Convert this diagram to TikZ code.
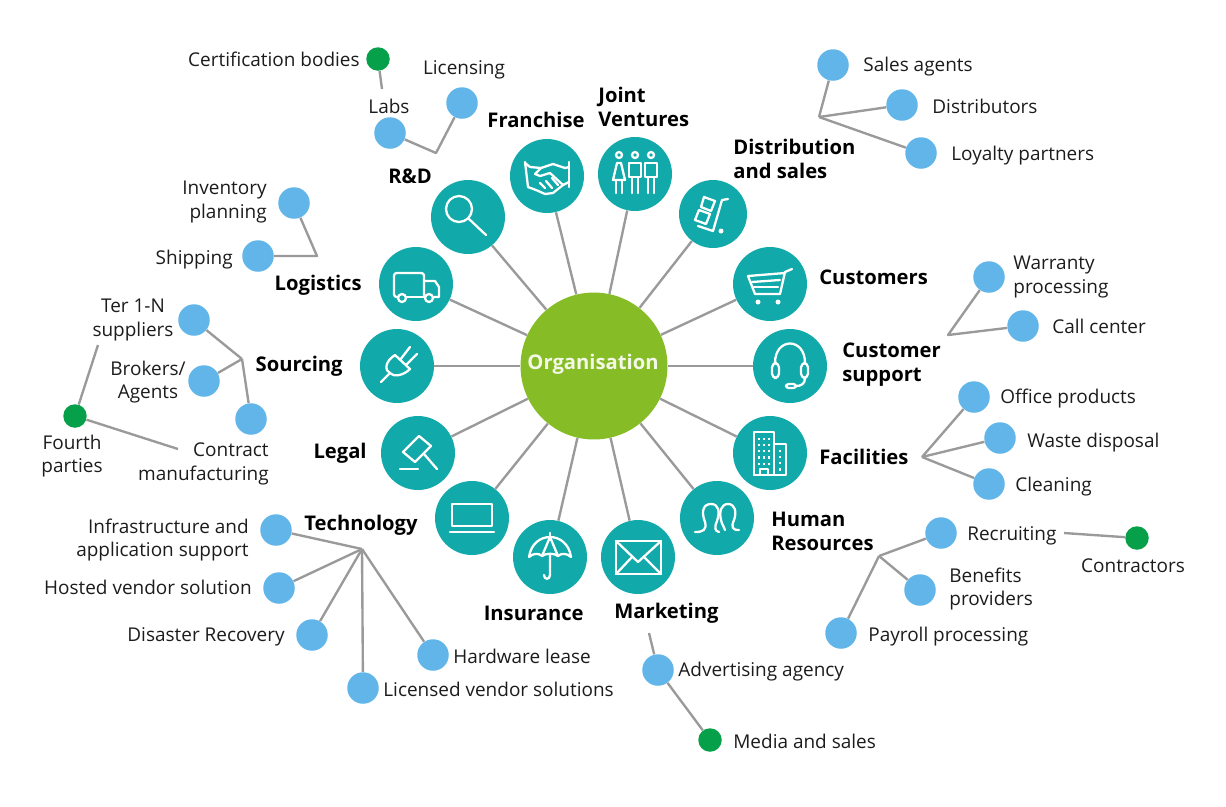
\documentclass[tikz,border=0pt]{standalone}
\usepackage{fontspec}
\setmainfont{Open Sans}
\usepackage{tikz}
\definecolor{orggreen}{HTML}{86BC25}
\definecolor{areateal}{HTML}{11A9A9}
\definecolor{leafblue}{HTML}{62B5E8}
\definecolor{fourthgreen}{HTML}{07A04A}
\definecolor{linegray}{HTML}{9A9A9A}
\definecolor{inktext}{HTML}{1C1C1C}
\begin{document}
\begin{tikzpicture}[
    x=0.02cm, y=-0.02cm,
    orgnode/.style={circle, fill=orggreen, inner sep=0pt, minimum size=2.94cm},
    orgtext/.style={text=white!90!orggreen, font=\fontsize{11.5}{13.6}\selectfont\bfseries, inner sep=0pt},
    areanode/.style={circle, fill=areateal, inner sep=0pt, minimum size=1.48cm},
    smallarea/.style={areanode, minimum size=1.36cm},
    leafnode/.style={circle, fill=leafblue, inner sep=0pt, minimum size=0.63cm},
    fourthnode/.style={circle, fill=fourthgreen, inner sep=0pt, minimum size=0.47cm},
    areatext/.style={text=black, font=\fontsize{11.5}{13.6}\selectfont\bfseries, inner sep=0pt},
    leaftext/.style={text=inktext, font=\fontsize{10.8}{13.3}\selectfont, inner sep=0pt},
    link/.style={draw=linegray, line width=1.35pt, line join=round},
    icon/.style={draw=white, line width=1.3pt, line join=round, line cap=round},
    icondots/.style={draw=white, line width=1.3pt, dash pattern=on 1.2pt off 2.3pt}
]
\useasboundingbox (0,0) rectangle (1226,806);
% centre and the ring of areas
\node[orgnode](org) at (594,366){};
\node[orgtext](orgtext) at (593,364){Organisation};
\node[areanode](franchise) at (547,176){};
\node[areanode](joint) at (635,174){};
\node[smallarea](distribution) at (713,214){};
\node[areanode](customers) at (770,284){};
\node[areanode](support) at (790,366){};
\node[areanode](facilities) at (770,453){};
\node[areanode](hr) at (717,518){};
\node[areanode](marketing) at (638,557){};
\node[areanode](insurance) at (550,557){};
\node[areanode](technology) at (472,518){};
\node[areanode](legal) at (418,453){};
\node[areanode](sourcing) at (397,366){};
\node[areanode](logistics) at (416,284){};
\node[areanode](rd) at (468,217){};
\draw[link] (org) -- (franchise);
\draw[link] (org) -- (joint);
\draw[link] (org) -- (distribution);
\draw[link] (org) -- (customers);
\draw[link] (org) -- (support);
\draw[link] (org) -- (facilities);
\draw[link] (org) -- (hr);
\draw[link] (org) -- (marketing);
\draw[link] (org) -- (insurance);
\draw[link] (org) -- (technology);
\draw[link] (org) -- (legal);
\draw[link] (org) -- (sourcing);
\draw[link] (org) -- (logistics);
\draw[link] (org) -- (rd);
% area names
\node[areatext, anchor=center](franchisetext) at (536,120){Franchise};
\node[areatext, anchor=west, align=left](jointtext) at (598,107){Joint\\Ventures};
\node[areatext, anchor=west, align=left](distributiontext) at (733,159){Distribution\\and sales};
\node[areatext, anchor=west](customerstext) at (819,277){Customers};
\node[areatext, anchor=west, align=left](supporttext) at (842,365){Customer\\support};
\node[areatext, anchor=west](facilitiestext) at (819,457){Facilities};
\node[areatext, anchor=west, align=left](hrtext) at (771,531){Human\\Resources};
\node[areatext, anchor=west](marketingtext) at (614,613){Marketing};
\node[areatext, anchor=east](insurancetext) at (584,613){Insurance};
\node[areatext, anchor=east](technologytext) at (418,525){Technology};
\node[areatext, anchor=east](legaltext) at (367,453){Legal};
\node[areatext, anchor=east](sourcingtext) at (343,366){Sourcing};
\node[areatext, anchor=east](logisticstext) at (362,285){Logistics};
\node[areatext](rdtext) at (410,176){R\&D};
% R&D
\node[fourthnode](certification) at (378,59){};
\node[leaftext, anchor=east](certificationtext) at (360,59){Certification bodies};
\node[leaftext](labstext) at (389,106){Labs};
\coordinate (labsend) at (382,89);
\node[leafnode](labs) at (390,133){};
\node[leafnode](licensing) at (462,103){};
\node[leaftext](licensingtext) at (464,70){Licensing};
\coordinate (rdjoin) at (436,153);
\draw[link] (certification) -- (labsend);
\draw[link] (labs) -- (rdjoin) -- (licensing);
% Logistics
\node[leafnode](inventory) at (294,203){};
\node[leaftext, anchor=east, align=right](inventorytext) at (267,202){Inventory\\planning};
\node[leafnode](shipping) at (258,256){};
\node[leaftext, anchor=east](shippingtext) at (233,260){Shipping};
\coordinate (logisticsjoin) at (317,256);
\draw[link] (inventory) -- (logisticsjoin) -- (shipping);
% Sourcing
\node[leafnode](tier) at (194,320){};
\node[leaftext, align=center](tiertext) at (133,320){Ter 1-N\\suppliers};
\node[leafnode](brokers) at (204,381){};
\node[leaftext, align=center](brokerstext) at (148,382){Brokers/\\Agents};
\node[leafnode](contract) at (251,419){};
\node[leaftext, anchor=east, align=right](contracttext) at (269,464){Contract\\manufacturing};
\node[fourthnode](fourth) at (75,416){};
\node[leaftext, align=center](fourthtext) at (72,456){Fourth\\parties};
\coordinate (sourcingjoin) at (242,359);
\coordinate (tierend) at (98,345);
\coordinate (contractend) at (178,449);
\draw[link] (tier) -- (sourcingjoin);
\draw[link] (brokers) -- (sourcingjoin);
\draw[link] (contract) -- (sourcingjoin);
\draw[link] (fourth) -- (tierend);
\draw[link] (fourth) -- (contractend);
% Technology
\node[leafnode](infrastructure) at (276,530){};
\node[leaftext, anchor=east, align=right](infrastructuretext) at (249,540){Infrastructure and\\application support};
\node[leafnode](hosted) at (279,588){};
\node[leaftext, anchor=east](hostedtext) at (252,587){Hosted vendor solution};
\node[leafnode](disaster) at (312,635){};
\node[leaftext, anchor=east](disastertext) at (285,637){Disaster Recovery};
\node[leafnode](licensed) at (363,688){};
\node[leaftext, anchor=west](licensedtext) at (383,689){Licensed vendor solutions};
\node[leafnode](hardware) at (433,655){};
\node[leaftext, anchor=west](hardwaretext) at (453,656){Hardware lease};
\coordinate (technologyjoin) at (362,549);
\draw[link] (infrastructure) -- (technologyjoin);
\draw[link] (hosted) -- (technologyjoin);
\draw[link] (disaster) -- (technologyjoin);
\draw[link] (licensed) -- (technologyjoin);
\draw[link] (hardware) -- (technologyjoin);
% Marketing
\coordinate (marketingend) at (649,633);
\node[leafnode](advertising) at (658,670){};
\node[leaftext, anchor=west](advertisingtext) at (678,672){Advertising agency};
\node[fourthnode](media) at (710,740){};
\node[leaftext, anchor=west](mediatext) at (733,741){Media and sales};
\draw[link] (marketingend) -- (advertising);
\draw[link] (advertising) -- (media);
% Human Resources
\node[leafnode](recruiting) at (941,533){};
\node[leaftext, anchor=west](recruitingtext) at (967,536){Recruiting};
\coordinate (recruitingend) at (1064,533);
\node[fourthnode](contractors) at (1137,538){};
\node[leaftext](contractorstext) at (1133,566){Contractors};
\node[leafnode](benefits) at (920,590){};
\node[leaftext, anchor=west, align=left](benefitstext) at (949,589){Benefits\\providers};
\node[leafnode](payroll) at (841,633){};
\node[leaftext, anchor=west](payrolltext) at (868,637){Payroll processing};
\coordinate (hrjoin) at (879,556);
\draw[link] (recruiting) -- (hrjoin);
\draw[link] (benefits) -- (hrjoin);
\draw[link] (payroll) -- (hrjoin);
\draw[link] (recruitingend) -- (contractors);
% Facilities
\node[leafnode](office) at (974,397){};
\node[leaftext, anchor=west](officetext) at (1000,399){Office products};
\node[leafnode](waste) at (1000,438){};
\node[leaftext, anchor=west](wastetext) at (1027,443){Waste disposal};
\node[leafnode](cleaning) at (989,484){};
\node[leaftext, anchor=west](cleaningtext) at (1015,487){Cleaning};
\coordinate (facilitiesjoin) at (922,457);
\draw[link] (office) -- (facilitiesjoin);
\draw[link] (waste) -- (facilitiesjoin);
\draw[link] (cleaning) -- (facilitiesjoin);
% Customer support
\node[leafnode](warranty) at (989,277){};
\node[leaftext, anchor=west, align=left](warrantytext) at (1013,277){Warranty\\processing};
\node[leafnode](callcenter) at (1023,326){};
\node[leaftext, anchor=west](callcentertext) at (1052,326){Call center};
\coordinate (supportjoin) at (948,335);
\draw[link] (warranty) -- (supportjoin) -- (callcenter);
% Distribution and sales
\node[leafnode](agents) at (833,65){};
\node[leaftext, anchor=west](agentstext) at (863,67){Sales agents};
\node[leafnode](distributors) at (902,105){};
\node[leaftext, anchor=west](distributorstext) at (932,106){Distributors};
\node[leafnode](loyalty) at (921,153){};
\node[leaftext, anchor=west](loyaltytext) at (951,156){Loyalty partners};
\coordinate (distributionjoin) at (819,117);
\draw[link] (agents) -- (distributionjoin);
\draw[link] (distributors) -- (distributionjoin);
\draw[link] (loyalty) -- (distributionjoin);
% icons
\begin{scope}[shift={(rd)}]
\draw[icon] (-9,-8) circle (13);
\draw[icon] (1,2) -- (18,18);
\end{scope}
\begin{scope}[shift={(franchise)}]
\draw[icon] (-22,-14) -- (-19,11);
\draw[icon] (22,-14) -- (22,11);
\draw[icon] (-22,-13) -- (-17,-9) -- (-6,-8) -- (6,-12) -- (18,-8) -- (22,-9);
\draw[icon] (-6,-8) -- (-12,-2) -- (-7,0) -- (3,-3) -- (16,9);
\draw[icon] (-19,11) -- (-11,14) -- (-2,18) -- (6,17) -- (16,9) -- (22,6);
\draw[icon] (-7,7) -- (-2,12);
\draw[icon] (-1,5) -- (5,12);
\draw[icon] (5,2) -- (11,9);
\end{scope}
\begin{scope}[shift={(joint)}]
\draw[icon] (-16,-19) circle (3);
\draw[icon] (0,-19) circle (3);
\draw[icon] (16,-19) circle (3);
\draw[icon] (-18,-11) -- (-14,-11) -- (-10,6) -- (-22,6) -- cycle;
\draw[icon] (-19,6) -- (-19,19);
\draw[icon] (-13,6) -- (-13,19);
\draw[icon] (-6,-11) rectangle (6,3);
\draw[icon] (-3,3) -- (-3,19);
\draw[icon] (3,3) -- (3,19);
\draw[icon] (10,-11) rectangle (22,3);
\draw[icon] (13,3) -- (13,19);
\draw[icon] (19,3) -- (19,19);
\end{scope}
\begin{scope}[shift={(distribution)}]
\draw[icon] (-9,-17) -- (2,-13) -- (-2,-3) -- (-12,-7) -- cycle;
\draw[icon] (-14,-4) -- (-3,0) -- (-7,10) -- (-18,6) -- cycle;
\draw[icon] (15,-15) -- (9,-14) -- (0,17) -- (-15,12);
\fill[white] (8,17) circle (2.5);
\end{scope}
\begin{scope}[shift={(customers)}]
\draw[icon] (22,-15) -- (15,-12) -- (10,10) -- (-15,10) -- (-22,-8) -- (15,-11);
\draw[icon] (-18,-2) -- (10,-4);
\draw[icon] (-16,3) -- (8,3);
\fill[white] (-12,18) circle (2.5);
\fill[white] (8,18) circle (2.5);
\end{scope}
\begin{scope}[shift={(support)}]
\draw[icon] (-15,-3) .. controls (-15,-29) and (15,-29) .. (15,-3);
\draw[icon, rounded corners=2.5pt] (-18,-3) rectangle (-11,12);
\draw[icon, rounded corners=2.5pt] (11,-3) rectangle (18,12);
\draw[icon] (15,12) .. controls (15,18) and (11,20) .. (6,20);
\draw[icon, rounded corners=1.5pt] (-4,18) rectangle (6,22);
\end{scope}
\begin{scope}[shift={(facilities)}]
\draw[icon] (-16,22) -- (-16,-21) -- (4,-21) -- (4,22);
\draw[icon] (4,-9) -- (16,-9) -- (16,22) -- (-16,22);
\draw[icon] (-10,22) -- (-10,16) -- (-2,16) -- (-2,22);
\draw[icondots] (-11,-15) -- (-11,12);
\draw[icondots] (-6,-15) -- (-6,12);
\draw[icondots] (-1,-15) -- (-1,12);
\draw[icondots] (10,-3) -- (10,18);
\end{scope}
\begin{scope}[shift={(hr)}]
\draw[icon] (-22,14) .. controls (-14,14) and (-10,12) .. (-12,4) .. controls (-16,-6) and (-14,-14) .. (-6,-14) .. controls (2,-14) and (3,-6) .. (0,3) .. controls (-3,10) and (-2,13) .. (2,14);
\draw[icon] (8,12) .. controls (7,8) and (5,7) .. (4,2) .. controls (2,-6) and (4,-14) .. (11,-14) .. controls (18,-14) and (20,-6) .. (17,2) .. controls (14,9) and (15,12) .. (22,12);
\end{scope}
\begin{scope}[shift={(marketing)}]
\draw[icon] (-22,-16) rectangle (23,17);
\draw[icon] (-22,-16) -- (0,5) -- (23,-16);
\draw[icon] (-22,17) -- (-6,0);
\draw[icon] (23,17) -- (6,0);
\end{scope}
\begin{scope}[shift={(insurance)}]
\draw[icon] (-21,0) .. controls (-19,-14) and (-9,-20) .. (0,-20) .. controls (9,-20) and (19,-14) .. (21,0) .. controls (17,-4) and (11,-4) .. (8,-1) .. controls (5,-4) and (-5,-4) .. (-8,-1) .. controls (-11,-4) and (-17,-4) .. (-21,0);
\draw[icon] (0,-20) -- (-8,-1);
\draw[icon] (0,-20) -- (8,-1);
\draw[icon] (0,-24) -- (0,-20);
\draw[icon] (0,-3) -- (0,18) .. controls (0,23) and (-6,23) .. (-6,18);
\end{scope}
\begin{scope}[shift={(technology)}]
\draw[icon] (-20,-14) rectangle (20,8);
\draw[icon] (-22,14) -- (22,14);
\end{scope}
\begin{scope}[shift={(legal)}]
\draw[icon] (-15,-1) -- (1,-17) -- (13,-7) -- (-3,9) -- cycle;
\draw[icon] (6,1) -- (19,16);
\draw[icon] (-18,16) -- (0,16);
\end{scope}
\begin{scope}[shift={(sourcing)}]
\draw[icon] (-16,16) -- (-7,7);
\draw[icon] (-2,-11) .. controls (-13,-4) and (-12,5) .. (-7,7) .. controls (-4,11) and (6,10) .. (13,3) -- cycle;
\draw[icon] (3,-6) -- (13,-19);
\draw[icon] (9,-1) -- (20,-12);
\end{scope}
\begin{scope}[shift={(logistics)}]
\draw[icon, rounded corners=1.5pt] (-18,13) -- (-22,13) -- (-22,-11) -- (8,-11) -- (8,13);
\draw[icon] (-9,13) -- (9,13);
\draw[icon] (8,-3) -- (19,-3) -- (23,3) -- (23,13) -- (18,13);
\draw[icon] (-14,14) circle (4);
\draw[icon] (13,14) circle (4);
\end{scope}
\end{tikzpicture}
\end{document}
